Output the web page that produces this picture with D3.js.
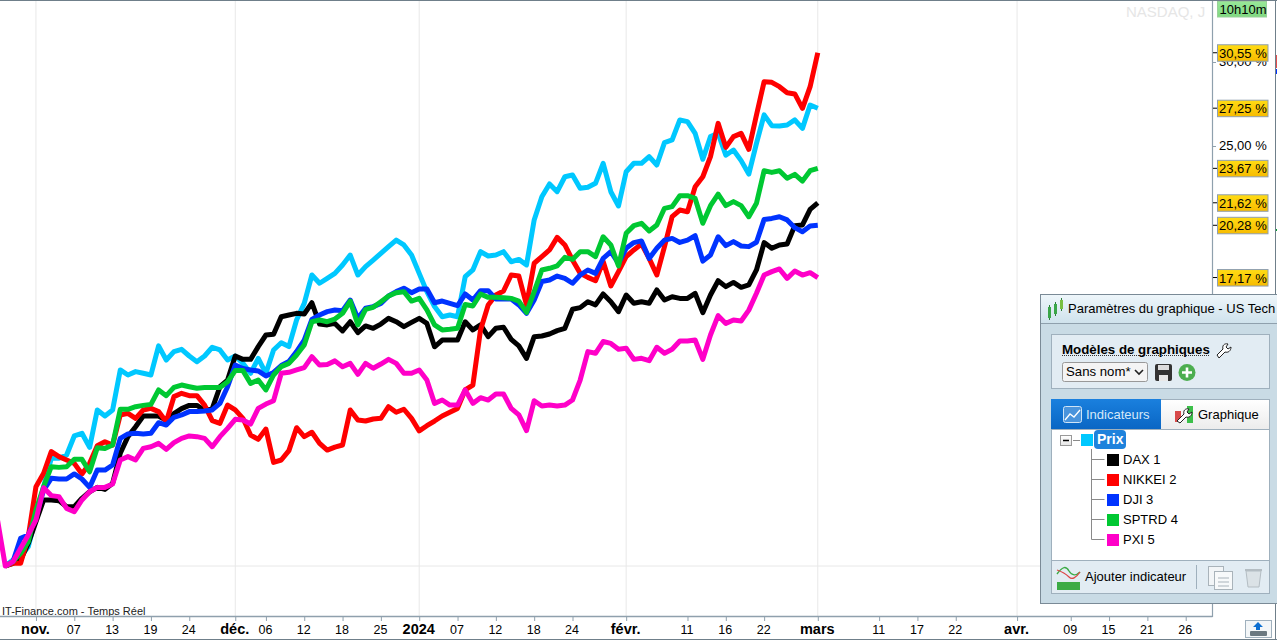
<!DOCTYPE html>
<html>
<head>
<meta charset="utf-8">
<script src="https://cdn.jsdelivr.net/npm/d3@7"></script>
<style>
  html,body{margin:0;padding:0;background:#fff;overflow:hidden}
  svg{display:block}
  text{font-family:"Liberation Sans",Arial,sans-serif;fill:#000}
</style>
</head>
<body>
<svg id="stage" width="1277" height="641"></svg>
<script>
// performance in %, one value per trading bar
const prix = [0,.36,.56,1.15,2.94,4.72,6.41,6.41,6.61,7.74,7.9,7.06,9.29,8.93,9.29,11.67,11.37,11.57,11.47,11.37,13.1,12.26,12.76,12.9,12.5,12.16,12.5,13.02,12.86,12.26,12.5,12.06,11.47,12.36,11.47,12.86,13.29,13.06,14.64,15.63,17.32,16.83,17.12,17.42,17.92,18.51,17.32,17.82,18.21,18.61,19.01,19.4,19.11,18.51,17.42,16.33,15.44,14.84,14.94,14.84,17.22,17.62,18.71,18.45,18.51,18.71,18.11,18.25,17.92,20.6,21.98,22.74,22.28,23.17,23.27,22.48,22.54,22.78,23.97,22.28,21.43,23.47,23.97,23.97,24.37,23.87,25.2,25.36,26.55,26.45,25.75,24.21,25.56,25.75,24.46,24.76,24.13,23.33,25.16,26.85,26.21,26.19,26.25,26.55,26.05,27.44,27.25];
const dax = [0,.16,.36,1.35,2.64,3.93,3.93,3.89,3.53,3.53,4.03,4.42,4.68,4.56,4.92,6.71,7.7,8.29,8.93,8.93,8.93,8.67,9.07,9.37,9.56,9.56,9.27,9.37,10.67,11.07,12.5,12.3,12.3,13.06,13.75,13.79,14.84,14.94,15.04,15,15.67,14.4,14.35,14.44,13.99,14.54,13.89,14.29,14.15,14.4,14.74,14.54,14.25,14.5,14.74,14.44,13.05,13.45,13.45,13.45,14.54,14.05,14.35,13.65,14.15,14.21,13.49,13.1,12.36,13.65,13.69,13.81,14.01,14.15,15.28,15.38,15.73,15.54,16.19,15.73,15.14,16.13,15.64,15.73,15.64,16.43,15.83,16.03,15.93,15.93,16.23,15.08,16.13,16.98,16.63,16.88,16.59,16.73,17.62,19.25,18.91,19.11,19.17,20.26,20.3,21.23,21.62];
const nikkei = [0,.16,.16,1.75,4.72,5.52,6.81,6.51,6.31,6.11,5.48,6.11,7.16,7.4,7.2,8.99,9.09,8.79,9.29,9.38,9.19,8.59,10.08,10.28,10.14,10.14,9.58,8.65,8.49,9.58,9.29,8.79,7.8,7.54,8.15,6.17,6.31,6.87,8.23,7.7,7.96,7.3,6.9,7.08,7.2,9.29,8.69,8.63,8.75,8.79,9.48,9.15,9.33,8.79,8.04,8.35,8.63,8.93,9.15,9.38,10.48,10.77,14.05,15.54,16.13,16.37,17.32,17.26,15.54,18.02,18.41,18.81,19.56,19.11,18.21,17.42,17.18,16.98,18.12,16.67,17.52,18.41,18.81,19.17,18.31,17.32,19.01,20.79,21.19,21.09,22.58,23.17,24.37,26.35,24.92,25.56,25.75,24.8,26.85,28.83,28.79,28.53,28.17,28.1,27.24,28.53,30.55];
const dji = [0,.26,1.65,1.85,2.94,4.52,5.22,5.18,5.18,5.48,5.18,4.68,5.71,5.71,6.01,7.6,7.86,7.9,7.86,7.9,8.53,8.39,8.85,8.99,9.19,9.19,9.23,9.29,9.68,10.67,11.96,11.76,11.67,11.61,11.31,11.52,11.93,12.17,12.76,13.45,14.68,14.94,15.14,15.24,15.2,15.83,14.74,15.34,15.44,15.63,16.07,16.33,16.53,16.27,16.49,16.49,15.67,15.77,15.63,15.5,16.19,15.83,16.39,16.39,15.89,15.89,15.89,15.54,15.04,15.83,16.93,17.02,17.26,17.12,16.83,17.32,17.62,17.42,18.31,18.71,18.02,18.91,19.25,19.35,18.31,18.91,19.4,19.5,19.26,19.4,19.66,18.15,18.51,19.6,19.07,19.31,19.05,19.01,19.27,20.63,20.69,20.79,20.6,20.14,19.9,20.24,20.28];
const sptrd = [0,.26,.75,1.45,3.33,4.72,5.91,5.87,5.91,6.35,6.35,5.61,7.04,7,7.2,9.33,9.33,9.48,9.56,9.62,10.48,10.14,10.63,10.77,10.67,10.58,10.62,10.63,10.63,10.97,11.63,11.63,10.87,11.07,10.48,11.37,11.87,12.06,12.56,13.15,14.54,14.64,14.54,14.7,15.04,15.77,14.35,15.28,15.4,15.73,16.07,16.27,16.33,15.77,15.93,15.24,14.35,14.05,14.09,14.15,15.57,15.48,16.19,15.99,15.99,15.97,15.93,15.77,15.1,16.33,17.62,17.72,17.86,18.37,18.25,18.71,18.71,18.41,19.6,19.11,17.86,19.8,20.26,20.4,19.94,20.3,21.29,21.39,22.04,22.04,21.88,20.4,21.45,22.14,21.45,21.69,21.45,20.79,21.59,23.53,23.43,23.53,23.08,23.31,22.91,23.53,23.67];
const pxi = [0,.26,1.05,1.85,2.74,4.66,4.19,4.13,3.43,3.23,3.93,4.42,4.68,4.68,4.88,6.31,6.51,6.31,7,7.1,7.3,6.94,7.34,7.6,7.74,7.7,7.6,7.1,7.7,8.19,8.73,8.69,8.45,9.38,9.64,9.84,11.47,11.53,11.67,11.81,12.46,11.96,12,12.21,11.86,12.06,11.41,12.06,11.77,12.02,12.3,12.06,11.47,11.47,11.67,11.07,9.68,9.88,9.58,9.58,10.48,9.68,10.02,9.88,10.24,10.24,9.38,8.99,8.06,9.84,9.52,9.58,9.52,9.58,9.88,11.07,12.76,12.66,13.36,13.25,12.9,12.96,12.3,12.36,12.22,13.02,12.66,12.9,13.39,13.39,13.45,12.3,13.75,14.9,14.44,14.64,14.58,15.23,16.23,17.32,17.52,17.68,17.12,17.56,17.32,17.46,17.17];
const pxiBefore = 2.7; // bar just left of the rebase point

const seriesNames = ["Prix","DAX 1","NIKKEI 2","DJI 3","SPTRD 4","PXI 5"];
const seriesColors = ["#00c8ff","#000000","#ff0000","#0033ff","#00c832","#ff00c8"];
const seriesValues = [prix,dax,nikkei,dji,sptrd,pxi];

// x axis: bar number -> label
const tickBars   = [4,9,14,19,24,30,34,39,44,49,54,59,64,69,74,81,89,94,99,106,114,119,124,132,139,144,149,154];
const tickLabels = ["nov.","07","13","19","24","déc.","06","12","18","25","2024","07","12","18","24","févr.","11","16","22","mars","11","17","22","avr.","09","15","21","26"];
const monthBars  = [4,30,54,81,106,132];

const yTicks = [25,30];
const lastValues = [30.55,27.25,23.67,21.62,20.28,17.17];

const svg = d3.select("#stage");
const W = 1277, plotR = 1212, plotB = 617;

const x = d3.scaleLinear().domain([0,154]).range([5.3,5.3+154*7.665]);
const y = d3.scaleLinear().domain([0,30]).range([566,62]);
const frmt = d=>d.toFixed(2).replace(".",",")+" %";

const defs = svg.append("defs");
function grad(id,top,bottom){
  const g = defs.append("linearGradient").attr("id",id).attr("x1",0).attr("x2",0).attr("y1",0).attr("y2",1);
  g.append("stop").attr("offset",0).attr("stop-color",top);
  g.append("stop").attr("offset",1).attr("stop-color",bottom);
}
grad("gold","#ffdc14","#f7bb00");
grad("timeG","#98e898","#7fd880");
grad("titleG","#eef6fa","#cfe2ec");
grad("tabG","#1a80de","#0a66c4");
grad("btnG","#ffffff","#e6e6e6");
grad("tabOff","#ffffff","#ececec");

// ---- grid ----
const gGrid = svg.append("g");
gGrid.selectAll("line.v").data(monthBars).join("line").attr("class","v")
  .attr("x1",d=>x(d)).attr("x2",d=>x(d)).attr("y1",0).attr("y2",plotB)
  .attr("stroke","#e8e8e8");
gGrid.append("line").attr("x1",0).attr("x2",plotR).attr("y1",y(0)).attr("y2",y(0)).attr("stroke","#e8e8e8");

svg.append("text").attr("x",1126).attr("y",17).attr("font-size",15).style("fill","#e6e6e6").text("NASDAQ, J");
svg.append("text").attr("x",2).attr("y",615).attr("font-size",11).style("fill","#222").text("IT-Finance.com - Temps Réel");

// ---- lines ----
const line = d3.line().x(d=>x(d.i)).y(d=>y(d.v)).curve(d3.curveLinear);
const gLines = svg.append("g");
seriesValues.forEach((vals,k)=>{
  const pts = vals.map((v,i)=>({i,v}));
  if(k==5) pts.unshift({i:-1,v:pxiBefore});
  gLines.append("path").datum(pts)
    .attr("d",line).attr("fill","none")
    .attr("stroke",seriesColors[k]).attr("stroke-width",5)
    .attr("stroke-linejoin","round");
});

// ---- axes ----
const xAxis = d3.axisBottom(x).tickValues(tickBars).tickSize(4).tickPadding(6)
  .tickFormat((d,i)=>tickLabels[i]);
const gx = svg.append("g").attr("transform",`translate(-1,${plotB})`).call(xAxis);
gx.select(".domain").remove();
gx.selectAll("line").attr("stroke","#8fa0ad").attr("transform","translate(1,0)");
gx.selectAll("text").attr("font-size",12.5).attr("dy",0).attr("y",16.5)
  .style("font-family",'"Liberation Sans",Arial,sans-serif')
  .filter((d,i)=>monthBars.includes(d)).attr("font-size",14.5).attr("font-weight","bold");

const yAxis = d3.axisRight(y).tickValues(yTicks).tickSize(4).tickPadding(3).tickFormat(frmt);
const gy = svg.append("g").attr("transform",`translate(${plotR},-1)`).call(yAxis);
gy.select(".domain").remove();
gy.selectAll("line").attr("stroke","#8fa0ad").attr("transform","translate(0,1)");
gy.selectAll("text").attr("font-size",13).style("font-family",'"Liberation Sans",Arial,sans-serif');

svg.append("line").attr("x1",0).attr("x2",plotR+.5).attr("y1",plotB-.5).attr("y2",plotB-.5).attr("stroke","#8fa0ad").attr("stroke-width",1.4);
svg.append("line").attr("x1",plotR+.5).attr("x2",plotR+.5).attr("y1",0).attr("y2",plotB).attr("stroke","#8fa0ad").attr("stroke-width",1.2);
svg.append("line").attr("x1",0).attr("x2",W).attr("y1",.5).attr("y2",.5).attr("stroke","#6f7f8a");
svg.append("line").attr("x1",0).attr("x2",W).attr("y1",639.5).attr("y2",639.5).attr("stroke","#6f7f8a");
svg.append("line").attr("x1",1275.5).attr("x2",1275.5).attr("y1",0).attr("y2",640).attr("stroke","#6f7f8a");

// ---- last value flags ----
const gFlags = svg.append("g");
lastValues.forEach(v=>{
  const g = gFlags.append("g").attr("transform",`translate(0,${y(v)})`);
  g.append("line").attr("x1",plotR+1).attr("x2",1218).attr("stroke","#000");
  g.append("rect").attr("x",1217.5).attr("y",-8).attr("width",50.5).attr("height",16.5)
    .attr("fill","url(#gold)").attr("stroke","#8f9fb0");
  g.append("text").attr("x",1219).attr("y",5).attr("font-size",13).text(frmt(v));
});
svg.append("rect").attr("x",1217.5).attr("y",1.5).attr("width",49).attr("height",15.5).attr("fill","url(#timeG)").attr("stroke","#9ad09a");
svg.append("text").attr("x",1219.5).attr("y",13.5).attr("font-size",13).text("10h10m");

// tiny marks of the hidden scale at the right edge
svg.append("rect").attr("x",1276).attr("y",55).attr("width",1).attr("height",13).attr("fill","#e05050");
svg.append("rect").attr("x",1276).attr("y",69).attr("width",1).attr("height",5).attr("fill","#0033ff");
svg.append("rect").attr("x",1276).attr("y",229).attr("width",1).attr("height",2).attr("fill","#00a030");

// ---- settings window ----
const p = svg.append("g");
p.append("rect").attr("x",1040.5).attr("y",294.5).attr("width",240).attr("height",309).attr("fill","#c9dbe5").attr("stroke","#7a8a96");
p.append("rect").attr("x",1041).attr("y",295).attr("width",236).attr("height",28).attr("fill","url(#titleG)");
p.append("line").attr("x1",1041).attr("x2",1277).attr("y1",323.5).attr("y2",323.5).attr("stroke","#8fa0ad");
// candle icon
[[1048,307,11,"#3aa648"],[1054,304,10,"#3aa648"],[1060,300,9,"#7abf40"]].forEach(c=>{
  p.append("line").attr("x1",c[0]+1.5).attr("x2",c[0]+1.5).attr("y1",c[1]-2).attr("y2",c[1]+c[2]+2).attr("stroke","#2d7d3a");
  p.append("rect").attr("x",c[0]).attr("y",c[1]).attr("width",3).attr("height",c[2]).attr("fill",c[3]);
});
p.append("text").attr("x",1068).attr("y",313).attr("font-size",13).text("Paramètres du graphique - US Tech");

// modeles box
p.append("rect").attr("x",1051.5).attr("y",334.5).attr("width",218).attr("height",54).attr("fill","#e2ecf3").attr("stroke","#9fb0bd");
p.append("text").attr("x",1062).attr("y",354).attr("font-size",13.3).attr("font-weight","bold").text("Modèles de graphiques");
p.append("line").attr("x1",1062).attr("x2",1210).attr("y1",355.5).attr("y2",355.5).attr("stroke","#333").attr("stroke-dasharray","1 1");
p.append("path").attr("d","M1217 355l6-6c-1-3 1-6 5-5l-2 3 2 2 3-2c0 4-3 6-6 5l-6 6z").attr("fill","#fff").attr("stroke","#222");
p.append("rect").attr("x",1062.5).attr("y",362.5).attr("width",85).attr("height",19).attr("rx",2).attr("fill","#f4f4f4").attr("stroke","#999");
p.append("text").attr("x",1066).attr("y",376).attr("font-size",13.2).text("Sans nom*");
p.append("path").attr("d","M1135 370l4 4 4-4").attr("fill","none").attr("stroke","#222").attr("stroke-width",1.6);
p.append("rect").attr("x",1155).attr("y",364).attr("width",17).attr("height",17).attr("rx",2).attr("fill","#333");
p.append("rect").attr("x",1158).attr("y",365).attr("width",11).attr("height",5).attr("fill","#dcdcdc");
p.append("rect").attr("x",1159).attr("y",375).attr("width",9).attr("height",6).attr("fill","#e8e8e8");
p.append("circle").attr("cx",1187).attr("cy",372.5).attr("r",8.5).attr("fill","#4cae4f");
p.append("path").attr("d","M1182 372.5h10M1187 367.5v10").attr("stroke","#fff").attr("stroke-width",2.6);

// tabs + tree
p.append("rect").attr("x",1051.5).attr("y",399.5).attr("width",218).attr("height",194).attr("fill","#fff").attr("stroke","#9fb0bd");
p.append("rect").attr("x",1051).attr("y",399).attr("width",110).attr("height",30).attr("fill","url(#tabG)");
p.append("rect").attr("x",1161).attr("y",400).attr("width",108).attr("height",29).attr("fill","url(#tabOff)");
p.append("line").attr("x1",1052).attr("x2",1269).attr("y1",429.5).attr("y2",429.5).attr("stroke","#9fb0bd");
p.append("rect").attr("x",1063.5).attr("y",406.5).attr("width",18).attr("height",16).attr("rx",2).attr("fill","#4a94dc").attr("stroke","#cfe4f7");
p.append("path").attr("d","M1065 420l5-6 4 3 6-7").attr("fill","none").attr("stroke","#fff").attr("stroke-width",1.3);
p.append("text").attr("x",1086).attr("y",419).attr("font-size",13).style("fill","#d6e8f8").text("Indicateurs");
p.append("rect").attr("x",1175).attr("y",411).attr("width",6).attr("height",11).attr("fill","#d84a4a");
p.append("rect").attr("x",1187).attr("y",406).attr("width",6).attr("height",17).attr("fill","#3cc04a");
p.append("path").attr("d","M1177 421l7-7c-1-3 1-6 5-5l-2 3 2 2 3-2c0 4-3 6-6 5l-6 6z").attr("fill","#fff").attr("stroke","#222");
p.append("text").attr("x",1198).attr("y",419).attr("font-size",13).text("Graphique");

// tree lines
p.append("path").attr("d","M1091.5 449V539.5M1091.5 459.5h13M1091.5 479.5h13M1091.5 499.5h13M1091.5 519.5h13M1091.5 539.5h13M1073 440.5h7")
  .attr("fill","none").attr("stroke","#8a8a8a");
p.append("rect").attr("x",1060.5).attr("y",435.5).attr("width",11).attr("height",10).attr("fill","url(#btnG)").attr("stroke","#999");
p.append("path").attr("d","M1063 440.5h6").attr("stroke","#000").attr("stroke-width",1.5);
p.append("rect").attr("x",1081).attr("y",434).attr("width",12).attr("height",12).attr("fill",seriesColors[0]);
p.append("rect").attr("x",1094).attr("y",430).attr("width",32).attr("height",19).attr("rx",4).attr("fill","#1e82dc");
p.append("text").attr("x",1097).attr("y",444).attr("font-size",14).attr("font-weight","bold").style("fill","#fff").text(seriesNames[0]);
seriesNames.slice(1).forEach((n,i)=>{
  p.append("rect").attr("x",1107).attr("y",454+i*20).attr("width",12).attr("height",12).attr("fill",seriesColors[i+1]);
  p.append("text").attr("x",1123).attr("y",464+i*20).attr("font-size",13).text(n);
});

// add indicator bar
p.append("rect").attr("x",1052).attr("y",560).attr("width",217).attr("height",33).attr("fill","#e2ecf3");
p.append("line").attr("x1",1052).attr("x2",1269).attr("y1",560.5).attr("y2",560.5).attr("stroke","#9fb0bd");
p.append("rect").attr("x",1057).attr("y",582).attr("width",23).attr("height",8).attr("fill","#3cab46");
p.append("path").attr("d","M1057 574c6-8 9-8 12-3s7 5 11 1").attr("fill","none").attr("stroke","#3cab46").attr("stroke-width",1.4);
p.append("path").attr("d","M1057 570c6 2 9 4 12 7s7 1 11-5").attr("fill","none").attr("stroke","#d44").attr("stroke-width",1.2);
p.append("text").attr("x",1085).attr("y",581).attr("font-size",13).text("Ajouter indicateur");
p.append("line").attr("x1",1196.5).attr("x2",1196.5).attr("y1",565).attr("y2",589).attr("stroke","#9fb0bd");
p.append("rect").attr("x",1208.5).attr("y",566.5).attr("width",15).attr("height",19).attr("fill","#f2f5f7").attr("stroke","#a9b3ba");
p.append("rect").attr("x",1214.5).attr("y",571.5).attr("width",18).attr("height",18).attr("fill","#f7f9fa").attr("stroke","#a9b3ba");
p.append("path").attr("d","M1218 578h11M1218 582h11M1218 586h11").attr("stroke","#a9b3ba");
p.append("path").attr("d","M1246 571h15l-2 16h-11z").attr("fill","#dbe2e6").attr("stroke","#b4bdc3");
p.append("path").attr("d","M1245 570h17").attr("stroke","#b4bdc3").attr("stroke-width",2);

// bottom right button
const b = svg.append("g");
b.append("rect").attr("x",1245.5).attr("y",620.5).attr("width",26).attr("height",17).attr("fill","#f3f6f8").attr("stroke","#9fb0bd");
b.append("path").attr("d","M1258 622l5 5h-3v3h-4v-3h-3z").attr("fill","#0d6fd1");
b.append("rect").attr("x",1250).attr("y",631).attr("width",17).attr("height",5).attr("rx",1).attr("fill","#6a7880");
</script>
</body>
</html>
